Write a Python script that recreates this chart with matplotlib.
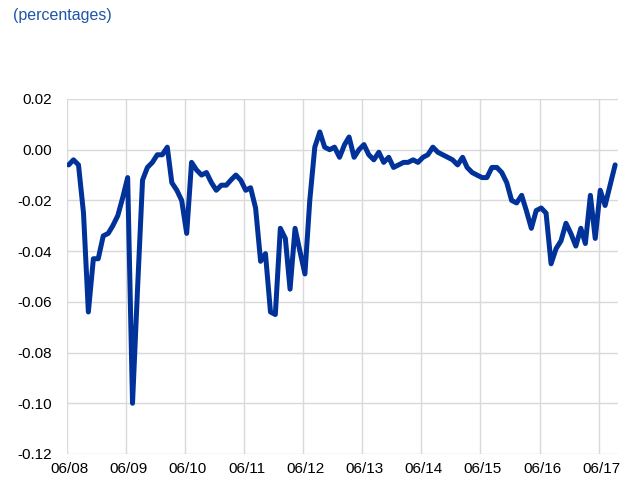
import pandas as pd
import matplotlib
matplotlib.use("Agg")
import matplotlib.pyplot as plt
from matplotlib.transforms import ScaledTranslation

# monthly series, 06/2008 - 09/2017 (percentages)
months = pd.date_range("2008-06-01", periods=112, freq="MS") + pd.Timedelta(days=10)
values = [
    -0.006, -0.004, -0.006, -0.025, -0.064, -0.043, -0.043, -0.034, -0.033, -0.030,
    -0.026, -0.019, -0.011, -0.100, -0.055, -0.012, -0.007, -0.005, -0.002, -0.002,
    0.001, -0.013, -0.016, -0.020, -0.033, -0.005, -0.008, -0.010, -0.009, -0.013,
    -0.016, -0.014, -0.014, -0.012, -0.010, -0.012, -0.016, -0.015, -0.023, -0.044,
    -0.041, -0.064, -0.065, -0.031, -0.035, -0.055, -0.031, -0.040, -0.049, -0.020,
    0.001, 0.007, 0.001, 0.000, 0.001, -0.003, 0.002, 0.005, -0.003, 0.000,
    0.002, -0.002, -0.004, -0.001, -0.005, -0.003, -0.007, -0.006, -0.005, -0.005,
    -0.004, -0.005, -0.003, -0.002, 0.001, -0.001, -0.002, -0.003, -0.004, -0.006,
    -0.003, -0.007, -0.009, -0.010, -0.011, -0.011, -0.007, -0.007, -0.009, -0.013,
    -0.020, -0.021, -0.018, -0.024, -0.031, -0.024, -0.023, -0.025, -0.045, -0.039,
    -0.036, -0.029, -0.033, -0.038, -0.031, -0.037, -0.018, -0.035, -0.016, -0.022,
    -0.014, -0.006,
]

x_ticks = pd.date_range("2008-06-01", "2017-06-01", freq="12MS")
x_labels = [d.strftime("%m/%y") for d in x_ticks]
y_ticks = [-0.12, -0.10, -0.08, -0.06, -0.04, -0.02, 0.00, 0.02]
y_labels = [f"{v:.2f}" for v in y_ticks]

plt.rcParams["font.family"] = ["Liberation Sans", "DejaVu Sans"]

fig = plt.figure(figsize=(6.31, 4.84), dpi=100)
ax = fig.add_axes([0.1062, 0.062, 0.873, 0.7335])

ax.plot(months, values, color="#003299", linewidth=3.6, solid_joinstyle="round",
        solid_capstyle="round", zorder=3)

ax.set_ylim(-0.12, 0.02)
ax.set_xlim(pd.Timestamp("2008-06-01"), pd.Timestamp("2017-09-28"))
ax.set_yticks(y_ticks)
ax.set_yticklabels(y_labels)
ax.set_xticks(x_ticks)
ax.set_xticklabels(x_labels)
ax.tick_params(axis="both", length=0, labelsize=11, colors="black")
ax.tick_params(axis="y", pad=10.5)
ax.tick_params(axis="x", pad=6)

# labels in the original sit a little right of the gridlines
shift = ScaledTranslation(2.5 / 100, 0, fig.dpi_scale_trans)
for lab in ax.get_xticklabels():
    lab.set_transform(lab.get_transform() + shift)

ax.grid(True, color="#d9d9d9", linewidth=1.0)
ax.set_axisbelow(True)
for s in ax.spines.values():
    s.set_visible(False)

fig.text(0.0206, 0.969, "(percentages)", color="#1f55a8", fontsize=11.5,
         ha="left", va="center")

fig.savefig("out.png", dpi=100)
